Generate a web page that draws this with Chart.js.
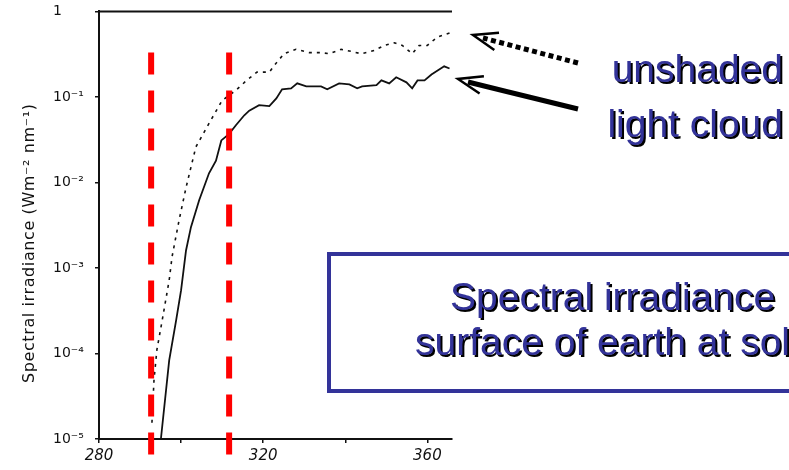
<!DOCTYPE html>
<html>
<head>
<meta charset="utf-8">
<title>Spectral irradiance</title>
<script src="https://cdn.jsdelivr.net/npm/chart.js@4.4.1/dist/chart.umd.min.js"></script>
<style>
  html, body { margin: 0; padding: 0; background: #fff; overflow: hidden; }
  #wrap { position: relative; width: 789px; height: 470px; overflow: hidden; }
  #wrap canvas { position: absolute; left: 0; top: 0; }
  .slide {
    position: absolute;
    font-family: "Liberation Sans", Arial, sans-serif;
    font-size: 39px;
    line-height: 39px;
    color: #333399;
    text-shadow: 2px 2px 0 #000;
    white-space: nowrap;
  }
  #box {
    position: absolute; left: 327px; top: 252px;
    width: 600px; height: 141px;
    border: 4px solid #333399; box-sizing: border-box;
  }
  #arrows { position: absolute; left: 0; top: 0; }
</style>
</head>
<body>
<div id="wrap">
  <canvas id="irradianceChart" width="789" height="470"></canvas>

  <svg id="arrows" width="789" height="470">
    <!-- dotted arrow -> unshaded curve -->
    <line x1="578" y1="63" x2="483" y2="38" stroke="#000" stroke-width="5" stroke-dasharray="5 3.5"/>
    <polyline points="499,32.7 473,35 494.3,49.9" fill="none" stroke="#000" stroke-width="2.5"/>
    <!-- solid arrow -> light cloud curve -->
    <line x1="578" y1="109" x2="468" y2="82" stroke="#000" stroke-width="5"/>
    <polyline points="483.9,76.3 458,79 479.6,93.5" fill="none" stroke="#000" stroke-width="2.5"/>
  </svg>

  <div class="slide" style="right:6px; top:49px;">unshaded</div>
  <div class="slide" style="right:6px; top:104px;">light cloud</div>

  <div id="box"></div>
  <div class="slide" style="left:450px; top:277px;">Spectral irradiance</div>
  <div class="slide" style="left:415px; top:322px;">surface of earth at solar</div>
</div>

<script>
// wavelength (nm) and spectral irradiance (W m-2 nm-1)
const unshadedNm  = [292.9, 293.4, 294.1, 295.4, 297.1, 297.8, 299.5, 301.2, 303.6, 306.8,
                     310.0, 313.4, 315.9, 318.5, 321.5, 323.2, 325.1, 328.0, 331.2, 334.1,
                     336.1, 339.0, 341.5, 343.9, 347.1, 349.5, 352.0, 353.9, 356.3, 358.0,
                     360.0, 362.4, 365.4];
const unshadedIrr = [1.55e-5, 4.9e-5, 1.1e-4, 2.45e-4, 7.2e-4, 1.35e-3, 3.6e-3, 8.7e-3, 0.026, 0.049,
                     0.091, 0.12, 0.155, 0.195, 0.195, 0.25, 0.32, 0.36, 0.33, 0.33,
                     0.32, 0.36, 0.34, 0.32, 0.35, 0.40, 0.43, 0.40, 0.32, 0.40,
                     0.40, 0.50, 0.56];

const cloudNm  = [295.1, 297.1, 298.8, 300.0, 301.2, 302.4, 304.4, 306.8, 308.5, 309.8,
                  311.7, 313.4, 315.4, 316.6, 319.0, 321.5, 323.2, 324.6, 326.8, 328.3,
                  330.5, 334.1, 335.6, 338.5, 341.0, 342.9, 344.1, 347.6, 348.8, 350.7,
                  352.4, 354.9, 356.3, 357.6, 359.3, 361.0, 364.1, 365.4];
const cloudIrr = [1.02e-5, 8.3e-5, 2.45e-4, 5.5e-4, 1.6e-3, 3.0e-3, 6.2e-3, 0.0128, 0.018, 0.031,
                  0.037, 0.047, 0.061, 0.069, 0.080, 0.078, 0.096, 0.123, 0.126, 0.144,
                  0.133, 0.133, 0.123, 0.144, 0.14, 0.126, 0.133, 0.137, 0.156, 0.144,
                  0.17, 0.148, 0.126, 0.156, 0.156, 0.183, 0.228, 0.215];

// red dashed markers
const cutoffNm = [292.7, 311.7];

const xTickValues = [280, 300, 320, 340, 360];
const xTickLabels = ['280', '', '320', '', '360'];
const yTickValues = [1e-5, 1e-4, 1e-3, 1e-2, 1e-1, 1];
const yTickLabels = ['10⁻⁵', '10⁻⁴', '10⁻³', '10⁻²', '10⁻¹', '1'];

const INK = '#111';
const TICK_FONT = { family: 'DejaVu Sans', size: 14 };

function toPoints(xs, ys) {
    return xs.map((v, i) => ({ x: v, y: ys[i] }));
}

// frame top line, red cut-off lines, rotated axis title
const paperPlugin = {
    id: 'paper',
    afterDraw(chart) {
        const { ctx, chartArea: a, scales: { x } } = chart;
        ctx.save();

        ctx.strokeStyle = INK;
        ctx.lineWidth = 2;
        ctx.beginPath();
        ctx.moveTo(a.left, a.top);
        ctx.lineTo(a.right, a.top);
        ctx.stroke();

        ctx.strokeStyle = '#ff0000';
        ctx.lineWidth = 6;
        ctx.setLineDash([22, 16]);
        cutoffNm.forEach(nm => {
            const px = x.getPixelForValue(nm);
            ctx.beginPath();
            ctx.moveTo(px, a.top + 41);
            ctx.lineTo(px, chart.height);
            ctx.stroke();
        });
        ctx.setLineDash([]);

        ctx.translate(30, (a.top + a.bottom) / 2 + 18);
        ctx.rotate(-Math.PI / 2);
        ctx.font = '16px "DejaVu Sans"';
        ctx.letterSpacing = '0.6px';
        ctx.fillStyle = INK;
        ctx.textAlign = 'center';
        ctx.textBaseline = 'middle';
        ctx.fillText('Spectral irradiance (Wm⁻² nm⁻¹)', 0, 0);
        ctx.restore();
    }
};

new Chart(document.getElementById('irradianceChart'), {
    type: 'line',
    data: {
        datasets: [
            {
                label: 'unshaded',
                data: toPoints(unshadedNm, unshadedIrr),
                borderColor: INK,
                borderWidth: 1.6,
                borderDash: [3, 5],
                pointRadius: 0,
                tension: 0
            },
            {
                label: 'light cloud',
                data: toPoints(cloudNm, cloudIrr),
                borderColor: INK,
                borderWidth: 1.8,
                pointRadius: 0,
                tension: 0
            }
        ]
    },
    options: {
        responsive: false,
        animation: false,
        events: [],
        layout: { padding: { left: 53, top: 11, right: 337, bottom: 0 } },
        plugins: {
            legend: { display: false },
            tooltip: { enabled: false }
        },
        scales: {
            x: {
                type: 'linear',
                min: 280,
                max: 366,
                afterFit: s => { s.height = 31; },
                afterBuildTicks: s => { s.ticks = xTickValues.map(v => ({ value: v })); },
                ticks: {
                    callback: (v, i) => xTickLabels[i],
                    font: { family: 'DejaVu Sans', size: 15, style: 'italic' },
                    color: INK,
                    padding: 4,
                    maxRotation: 0,
                    autoSkip: false
                },
                grid: { drawOnChartArea: false, tickLength: 4, color: INK, lineWidth: 1.5 },
                border: { color: INK, width: 2 }
            },
            y: {
                type: 'logarithmic',
                min: 1e-5,
                max: 1,
                afterFit: s => { s.width = 46; },
                afterBuildTicks: s => { s.ticks = yTickValues.map(v => ({ value: v })); },
                ticks: {
                    callback: (v, i) => yTickLabels[i],
                    font: TICK_FONT,
                    color: INK,
                    crossAlign: 'far',
                    autoSkip: false
                },
                grid: { drawOnChartArea: false, tickLength: 4, color: INK, lineWidth: 1.5 },
                border: { color: INK, width: 2 }
            }
        }
    },
    plugins: [paperPlugin]
});
</script>
</body>
</html>
